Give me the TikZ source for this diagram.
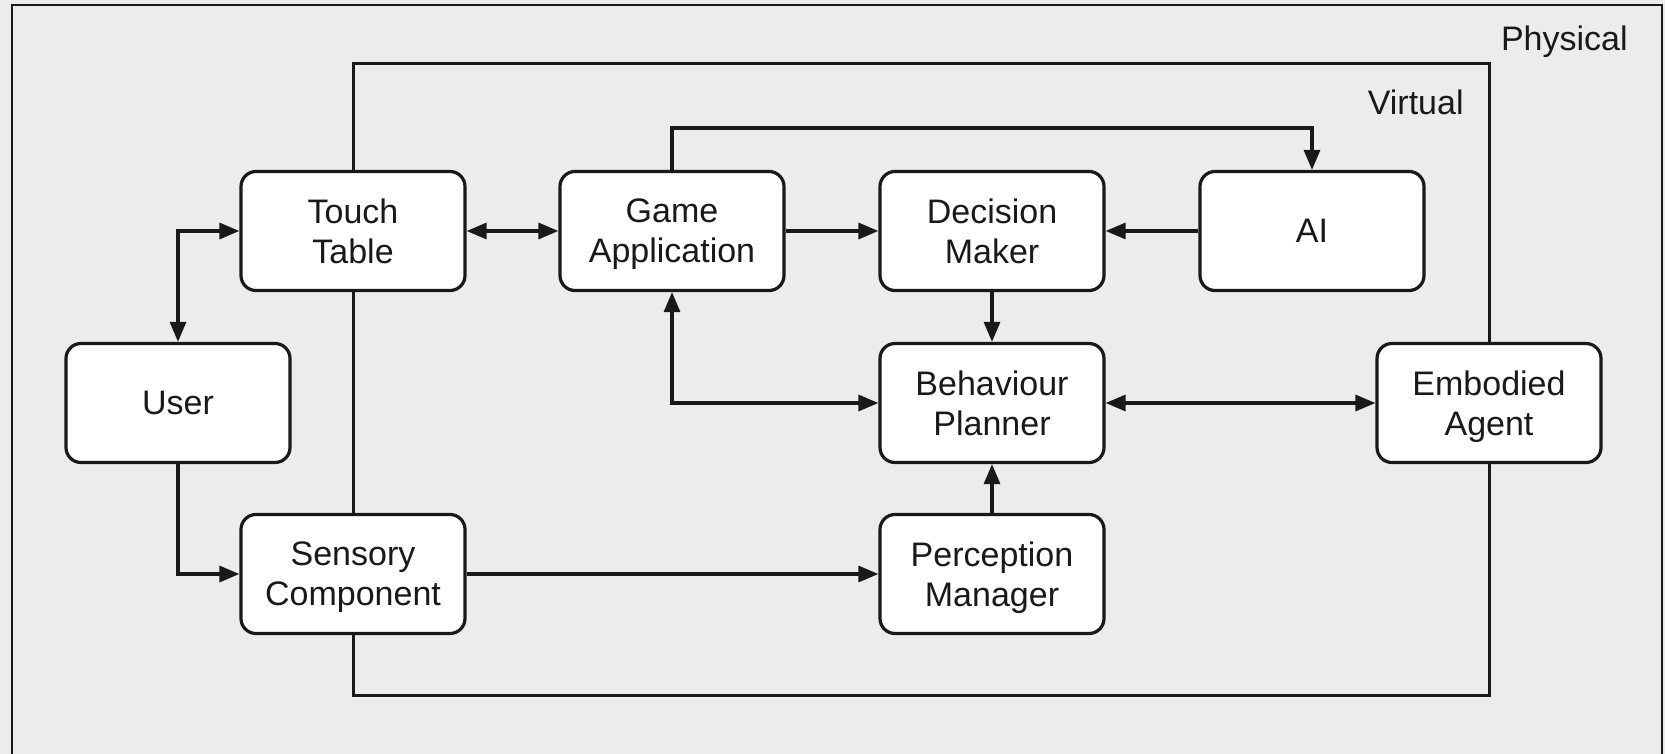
\documentclass[tikz,border=0pt]{standalone}
\usepackage{fontspec}
\setmainfont{Liberation Sans}
\usetikzlibrary{arrows.meta}
\definecolor{bggrey}{RGB}{236,236,234}
\definecolor{ink}{RGB}{25,25,25}
\begin{document}
\begin{tikzpicture}[x=0.5pt,y=-0.5pt,
  box/.style={draw=ink,fill=white,line width=1.6pt,rounded corners=7.5pt,
    minimum width=112pt,minimum height=59.5pt,inner sep=0pt,align=center,
    text depth=0pt,text=ink,font=\fontsize{17}{20}\selectfont},
  lbl/.style={anchor=east,inner sep=0pt,text=ink,font=\fontsize{17}{20}\selectfont},
  frame/.style={draw=ink,line width=1.5pt},
  conn/.style={draw=ink,line width=1.6pt},
  tip/.tip={Triangle[length=10pt,width=8pt]}
]
\useasboundingbox (0,0) rectangle (1665,754);
\fill[bggrey] (0,0) rectangle (1665,754);
% Physical region
\draw[frame,line width=1.3pt] (12,5) rectangle (1662,770);
\node[lbl] (phys) at (1628,42) {Physical};
% Virtual region
\draw[frame] (353,64) rectangle (1489,695);
\node[lbl] (virt) at (1464,102) {Virtual};
% Nodes
\node[box] (tt) at (353,231) {Touch\\Table};
\node[box] (user) at (178,403) {User};
\node[box] (sc) at (353,574) {Sensory\\Component};
\node[box] (ga) at (672,231) {Game\\Application};
\node[box] (dm) at (992,231) {Decision\\Maker};
\node[box] (ai) at (1312,231) {AI};
\node[box] (bp) at (992,403) {Behaviour\\Planner};
\node[box] (ea) at (1489,403) {Embodied\\Agent};
\node[box] (pm) at (992,574) {Perception\\Manager};
\coordinate (topline) at (0,128);
% Connectors
\draw[conn,tip-tip] (user.north) |- (tt.west);
\draw[conn,-tip] (user.south) |- (sc.west);
\draw[conn,tip-tip] (tt) -- (ga);
\draw[conn,-tip] (ga) -- (dm);
\draw[conn,-tip] (ai) -- (dm);
\draw[conn,-tip] (ga.north) -- (ga.north |- topline) -| (ai.north);
\draw[conn,-tip] (dm) -- (bp);
\draw[conn,tip-tip] (ga.south) |- (bp.west);
\draw[conn,tip-tip] (bp) -- (ea);
\draw[conn,-tip] (pm) -- (bp);
\draw[conn,-tip] (sc) -- (pm);
\end{tikzpicture}
\end{document}
